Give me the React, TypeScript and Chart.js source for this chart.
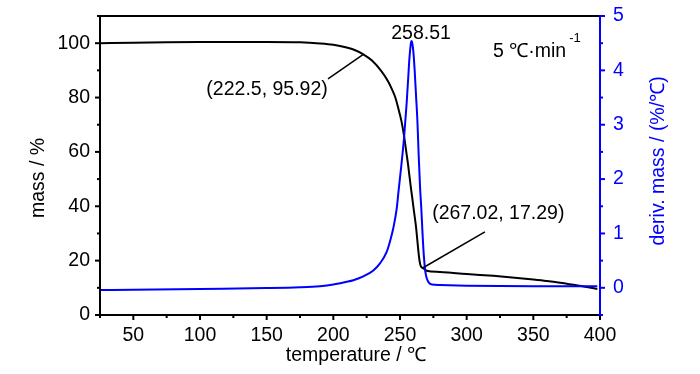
import React, { useEffect, useRef } from "react";
import { Chart, registerables } from "chart.js";

Chart.register(...registerables);

// ---- data ----
const massTemp = [25, 50, 75, 100, 125, 150, 175, 190, 200, 210, 216, 222.5, 229, 236, 241, 244, 246.5, 249, 251, 253, 255, 256, 257, 258, 259, 260, 261, 262, 263, 264, 265, 265.8, 267.02, 268, 270, 280, 290, 300, 310, 320, 330, 340, 350, 360, 370, 380, 390, 398];
const massValue = [100.0, 100.2, 100.35, 100.4, 100.4, 100.4, 100.3, 99.9, 99.4, 98.4, 97.5, 95.92, 93.6, 89.7, 86.0, 83.0, 80.0, 75.5, 71.5, 66.0, 59.0, 55.5, 51.5, 47.5, 43.8, 40.0, 36.3, 32.5, 27.5, 22.5, 19.0, 17.8, 17.29, 17.0, 16.3, 15.85, 15.45, 15.1, 14.75, 14.4, 14.0, 13.55, 13.05, 12.5, 11.85, 11.1, 10.3, 9.6];

const dtgTemp = [25, 50, 100, 150, 175, 190, 200, 210, 215, 222.5, 230, 235, 240, 243, 245, 247.5, 249, 251, 253, 255, 256.5, 257, 258, 258.51, 259, 260, 261, 262, 263, 264, 265, 266, 267, 268, 269, 270, 271.5, 274, 280, 300, 350, 398];
const dtgValue = [-0.04, -0.035, -0.02, -0.005, 0.01, 0.03, 0.06, 0.11, 0.14, 0.21, 0.32, 0.45, 0.66, 0.9, 1.1, 1.45, 1.8, 2.25, 2.75, 3.4, 4.0, 4.2, 4.47, 4.54, 4.52, 4.35, 4.0, 3.55, 3.1, 2.45, 1.87, 1.45, 0.95, 0.55, 0.3, 0.18, 0.1, 0.06, 0.05, 0.04, 0.03, 0.03];

const xTicks = [50, 100, 150, 200, 250, 300, 350, 400];
const xMinorTicks = [25, 75, 125, 175, 225, 275, 325, 375];
const massTicks = [0, 20, 40, 60, 80, 100];
const massMinorTicks = [10, 30, 50, 70, 90, 110];
const dtgTicks = [0, 1, 2, 3, 4, 5];
const dtgMinorTicks = [-0.5, 0.5, 1.5, 2.5, 3.5, 4.5];

const xTitle = "temperature / \u2103";
const massTitle = "mass / %";
const dtgTitle = "deriv. mass / (%/\u2103)";
const rateText = "5 \u2103\u00B7min";
const rateSup = "-1";

// annotation texts anchored in data space (temperature, mass)
const pointLabels = [
  { text: "(222.5, 95.92)", point: [222.5, 95.92], label: [150.3, 82.9], lineFrom: [196, 86.9] },
  { text: "(267.02, 17.29)", point: [267.02, 17.29], label: [323.7, 37.3], lineFrom: [313.7, 30.6] },
];
const peakLabel = { text: "258.51", at: [265.8, 103.5] };

const FONT = "'Liberation Sans', Arial, sans-serif";
const FS = 19.5;
const BLUE = "#0000ff";

const decorPlugin = {
  id: "decor",
  afterDraw(chart: any) {
    const ctx = chart.ctx as CanvasRenderingContext2D;
    const ca = chart.chartArea;
    const sx = chart.scales.x;
    const sy = chart.scales.y;
    const sy1 = chart.scales.y1;
    ctx.save();
    ctx.lineCap = "butt";

    // ticks
    ctx.lineWidth = 2;
    ctx.strokeStyle = "#000";
    const tick = (x1: number, y1: number, x2: number, y2: number) => {
      ctx.beginPath();
      ctx.moveTo(x1, y1);
      ctx.lineTo(x2, y2);
      ctx.stroke();
    };
    xTicks.forEach((v) => { const p = sx.getPixelForValue(v); tick(p, ca.bottom, p, ca.bottom + 5); });
    xMinorTicks.forEach((v) => { const p = sx.getPixelForValue(v); tick(p, ca.bottom, p, ca.bottom + 3); });
    massTicks.forEach((v) => { const p = sy.getPixelForValue(v); tick(ca.left, p, ca.left - 5, p); });
    massMinorTicks.forEach((v) => { const p = sy.getPixelForValue(v); tick(ca.left, p, ca.left - 3, p); });
    ctx.strokeStyle = BLUE;
    dtgTicks.forEach((v) => { const p = sy1.getPixelForValue(v); tick(ca.right, p, ca.right + 5, p); });
    dtgMinorTicks.forEach((v) => { const p = sy1.getPixelForValue(v); tick(ca.right, p, ca.right + 3, p); });

    // frame
    ctx.strokeStyle = "#000";
    ctx.beginPath();
    ctx.moveTo(ca.right, ca.top);
    ctx.lineTo(ca.left, ca.top);
    ctx.lineTo(ca.left, ca.bottom);
    ctx.lineTo(ca.right, ca.bottom);
    ctx.stroke();
    ctx.strokeStyle = BLUE;
    ctx.beginPath();
    ctx.moveTo(ca.right, ca.top - 1);
    ctx.lineTo(ca.right, ca.bottom + 1);
    ctx.stroke();

    // axis titles
    ctx.font = `${FS}px ${FONT}`;
    ctx.textAlign = "center";
    ctx.textBaseline = "middle";
    ctx.fillStyle = "#000";
    ctx.fillText(xTitle, ca.left + 256, ca.bottom + 41);

    ctx.save();
    ctx.translate(ca.left - 61, ca.top + 162);
    ctx.rotate(-Math.PI / 2);
    ctx.fillText(massTitle, 0, 0);
    ctx.restore();

    ctx.save();
    ctx.fillStyle = BLUE;
    ctx.translate(ca.right + 59, ca.top + 145);
    ctx.rotate(-Math.PI / 2);
    ctx.fillText(dtgTitle, 0, 0);
    ctx.restore();

    // annotations
    ctx.fillStyle = "#000";
    ctx.strokeStyle = "#000";
    ctx.lineWidth = 1.5;
    pointLabels.forEach((a) => {
      ctx.fillText(a.text, sx.getPixelForValue(a.label[0]), sy.getPixelForValue(a.label[1]));
      ctx.beginPath();
      ctx.moveTo(sx.getPixelForValue(a.lineFrom[0]), sy.getPixelForValue(a.lineFrom[1]));
      ctx.lineTo(sx.getPixelForValue(a.point[0]), sy.getPixelForValue(a.point[1]));
      ctx.stroke();
    });
    ctx.fillText(peakLabel.text, sx.getPixelForValue(peakLabel.at[0]), sy.getPixelForValue(peakLabel.at[1]));

    // heating rate
    ctx.textAlign = "left";
    ctx.textBaseline = "alphabetic";
    const rx = ca.left + 393;
    const ry = ca.top + 40.5;
    ctx.fillText(rateText, rx, ry);
    const w = ctx.measureText(rateText).width;
    ctx.font = `13px ${FONT}`;
    ctx.fillText(rateSup, rx + w + 3, ry - 15);

    ctx.restore();
  },
};

export default function App() {
  const ref = useRef<HTMLCanvasElement | null>(null);

  useEffect(() => {
    document.body.style.margin = "0";
    const canvas = ref.current;
    if (!canvas) return;
    const tickFont = { family: FONT, size: FS };
    const chart = new Chart(canvas, {
      type: "line",
      data: {
        datasets: [
          {
            label: "DTG",
            data: dtgTemp.map((t, i) => ({ x: t, y: dtgValue[i] })),
            yAxisID: "y1",
            borderColor: BLUE,
            borderWidth: 2,
            pointRadius: 0,
            fill: false,
            cubicInterpolationMode: "monotone",
          },
          {
            label: "TG",
            data: massTemp.map((t, i) => ({ x: t, y: massValue[i] })),
            yAxisID: "y",
            borderColor: "#000",
            borderWidth: 2,
            pointRadius: 0,
            fill: false,
            cubicInterpolationMode: "monotone",
          },
        ],
      },
      options: {
        animation: false,
        responsive: false,
        devicePixelRatio: 1,
        layout: { padding: { top: 16, left: 0, right: 0, bottom: 0 } },
        plugins: { legend: { display: false }, tooltip: { enabled: false } },
        scales: {
          x: {
            type: "linear",
            position: "bottom",
            min: 25,
            max: 400,
            grid: { display: false, drawTicks: false },
            border: { display: false },
            ticks: { font: tickFont, color: "#000", padding: 9, maxRotation: 0, autoSkip: false },
            afterBuildTicks: (s: any) => { s.ticks = xTicks.map((v) => ({ value: v })); },
            afterFit: (s: any) => { s.height = 59; s.paddingLeft = 0; s.paddingRight = 0; },
          },
          y: {
            type: "linear",
            position: "left",
            min: 0,
            max: 110,
            grid: { display: false, drawTicks: false },
            border: { display: false },
            ticks: { font: tickFont, color: "#000", padding: 10 },
            afterBuildTicks: (s: any) => { s.ticks = massTicks.map((v) => ({ value: v })); },
            afterFit: (s: any) => { s.width = 100; s.paddingTop = 0; s.paddingBottom = 0; },
          },
          y1: {
            type: "linear",
            position: "right",
            min: -0.5,
            max: 5,
            grid: { display: false, drawTicks: false },
            border: { display: false },
            ticks: { font: tickFont, color: BLUE, padding: 13 },
            afterBuildTicks: (s: any) => { s.ticks = dtgTicks.map((v) => ({ value: v })); },
            afterFit: (s: any) => { s.width = 100; s.paddingTop = 0; s.paddingBottom = 0; },
          },
        },
      },
      plugins: [decorPlugin],
    } as any);
    return () => chart.destroy();
  }, []);

  return (
    <div style={{ width: 700, height: 374, background: "#fff" }}>
      <canvas ref={ref} width={700} height={374} />
    </div>
  );
}
